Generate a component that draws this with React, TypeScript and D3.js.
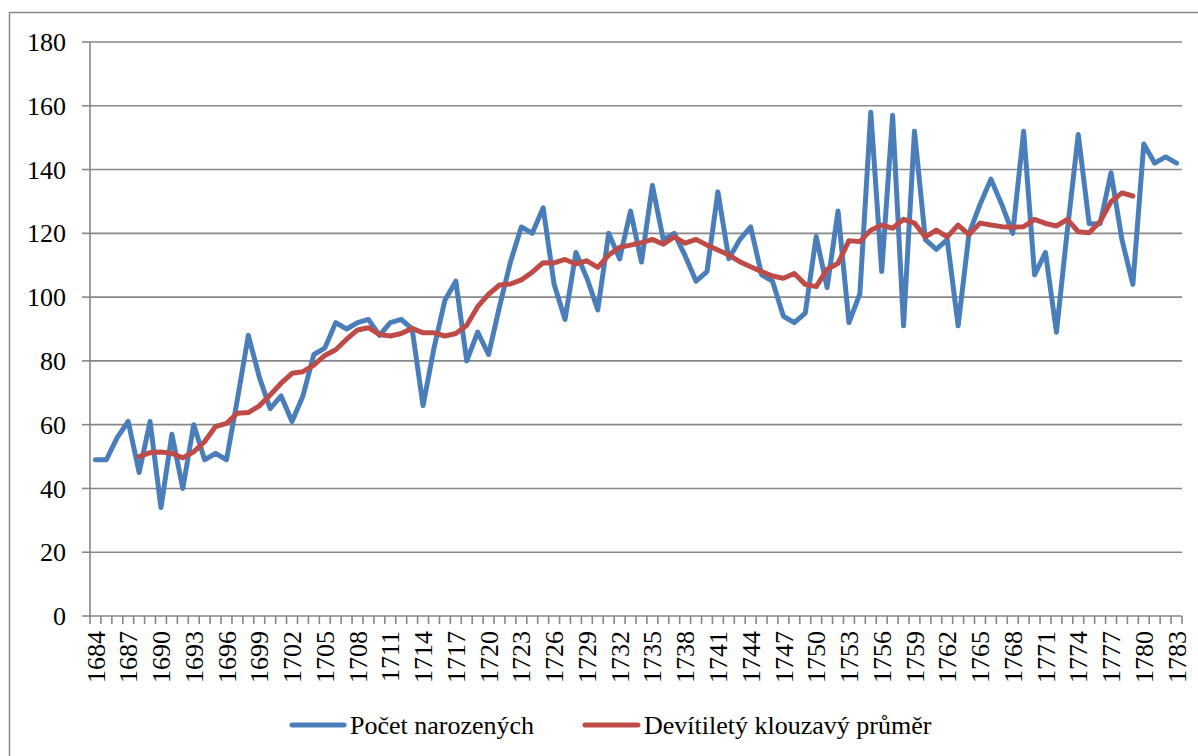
import React from "react";
import * as d3 from "d3";

const years: number[] = Array.from({ length: 100 }, (_, i) => 1684 + i);

const births: number[] = [
  49, 49, 56, 61, 45, 61, 34, 57, 40, 60,
  49, 51, 49, 68, 88, 75, 65, 69, 61, 69,
  82, 84, 92, 90, 92, 93, 88, 92, 93, 90,
  66, 84, 99, 105, 80, 89, 82, 97, 111, 122,
  120, 128, 104, 93, 114, 106, 96, 120, 112, 127,
  111, 135, 118, 120, 113, 105, 108, 133, 112, 118,
  122, 107, 105, 94, 92, 95, 119, 103, 127, 92,
  101, 158, 108, 157, 91, 152, 118, 115, 118, 91,
  120, 129, 137, 129, 120, 152, 107, 114, 89, 121,
  151, 123, 123, 139, 118, 104, 148, 142, 144, 142,
];

// 9-year moving average, 1688..1779
const avgStartYear = 1688;
const movingAvg: number[] = [
  50.0, 51.2, 51.4, 51.0, 49.6, 51.5, 54.7, 59.4, 60.4, 63.6,
  63.8, 65.9, 69.3, 73.0, 76.1, 76.6, 78.7, 81.7, 83.5, 86.8,
  89.7, 90.4, 88.3, 87.8, 88.6, 90.2, 88.8, 88.8, 87.8, 88.6,
  91.2, 97.0, 100.9, 103.8, 104.1, 105.4, 107.8, 110.8, 110.7, 111.8,
  110.4, 111.4, 109.3, 113.2, 115.6, 116.3, 117.1, 118.1, 116.6, 118.9,
  116.9, 118.1, 116.3, 114.8, 113.2, 111.1, 109.5, 108.0, 106.6, 105.9,
  107.4, 104.0, 103.3, 108.7, 110.6, 117.7, 117.4, 121.0, 122.6, 121.6,
  124.4, 123.2, 118.9, 121.0, 118.9, 122.6, 119.6, 123.2, 122.6, 122.1,
  121.9, 122.1, 124.4, 123.1, 122.3, 124.4, 120.5, 120.2, 123.7, 129.9,
  132.7, 131.7,
];

const yTicks: number[] = [0, 20, 40, 60, 80, 100, 120, 140, 160, 180];
const xLabelYears: number[] = years.filter((_, i) => i % 3 === 0);

const seriesNames = ["Počet narozených", "Devítiletý klouzavý průměr"];

const W = 1198;
const H = 756;
const left = 90;
const right = 1182;
const top = 42;
const bottom = 616;
const BLUE = "#4a7ebb";
const RED = "#be4b48";
const GRID = "#878787";
const FONT = "'Liberation Serif', 'Tinos', 'DejaVu Serif', 'Times New Roman', Times, serif";
const textStyle: React.CSSProperties = { fontFamily: FONT, fontSize: "26px" };

export default function App() {
  const x = d3.scaleBand<number>().domain(years).range([left, right]).padding(0);
  const y = d3.scaleLinear().domain([0, 180]).range([bottom, top]);
  const cx = (yr: number) => (x(yr) as number) + x.bandwidth() / 2;

  const line = d3
    .line<[number, number]>()
    .x((d) => cx(d[0]))
    .y((d) => y(d[1]));

  const birthPts: [number, number][] = years.map((yr, i) => [yr, births[i]]);
  const avgPts: [number, number][] = movingAvg.map((v, i) => [avgStartYear + i, v]);

  const boundaries = d3.range(years.length + 1).map((i) => left + i * x.bandwidth());

  return (
    <svg
      width={W}
      height={H}
      style={{ position: "absolute", left: 0, top: 0, background: "#fff", fontFamily: FONT }}
    >
      <rect x={0} y={0} width={W} height={H} fill="#fff" />
      {/* outer border */}
      <rect x={9.5} y={12.5} width={W + 10} height={H + 10} fill="none" stroke={GRID} strokeWidth={1.5} />

      {/* gridlines */}
      {yTicks.map((t) => (
        <line key={"g" + t} x1={left} x2={right} y1={y(t)} y2={y(t)} stroke={GRID} strokeWidth={1.6} />
      ))}
      {/* y axis */}
      <line x1={left} x2={left} y1={top} y2={bottom} stroke={GRID} strokeWidth={1.6} />
      {yTicks.map((t) => (
        <g key={"yt" + t}>
          <line x1={left - 8} x2={left} y1={y(t)} y2={y(t)} stroke={GRID} strokeWidth={1.6} />
          <text x={66} y={y(t)} dy="0.35em" textAnchor="end" style={textStyle} fill="#000">
            {t}
          </text>
        </g>
      ))}
      {/* x axis ticks */}
      {boundaries.map((bx, i) => (
        <line key={"xt" + i} x1={bx} x2={bx} y1={bottom} y2={bottom + 8} stroke={GRID} strokeWidth={1.6} />
      ))}
      {xLabelYears.map((yr) => (
        <text
          key={"xl" + yr}
          transform={`translate(${cx(yr)},${bottom + 15}) rotate(-90)`}
          dy="0.35em"
          textAnchor="end"
          style={textStyle}
          fill="#000"
        >
          {yr}
        </text>
      ))}

      {/* series */}
      <path d={line(birthPts) || ""} fill="none" stroke={BLUE} strokeWidth={5} strokeLinejoin="round" strokeLinecap="round" />
      <path d={line(avgPts) || ""} fill="none" stroke={RED} strokeWidth={5} strokeLinejoin="round" strokeLinecap="round" />

      {/* legend */}
      <line x1={292} x2={344} y1={725} y2={725} stroke={BLUE} strokeWidth={5} strokeLinecap="round" />
      <text x={350} y={725} dy="0.35em" style={textStyle} fill="#000">
        {seriesNames[0]}
      </text>
      <line x1={585} x2={638} y1={725} y2={725} stroke={RED} strokeWidth={5} strokeLinecap="round" />
      <text x={644} y={725} dy="0.35em" style={textStyle} fill="#000">
        {seriesNames[1]}
      </text>
    </svg>
  );
}
